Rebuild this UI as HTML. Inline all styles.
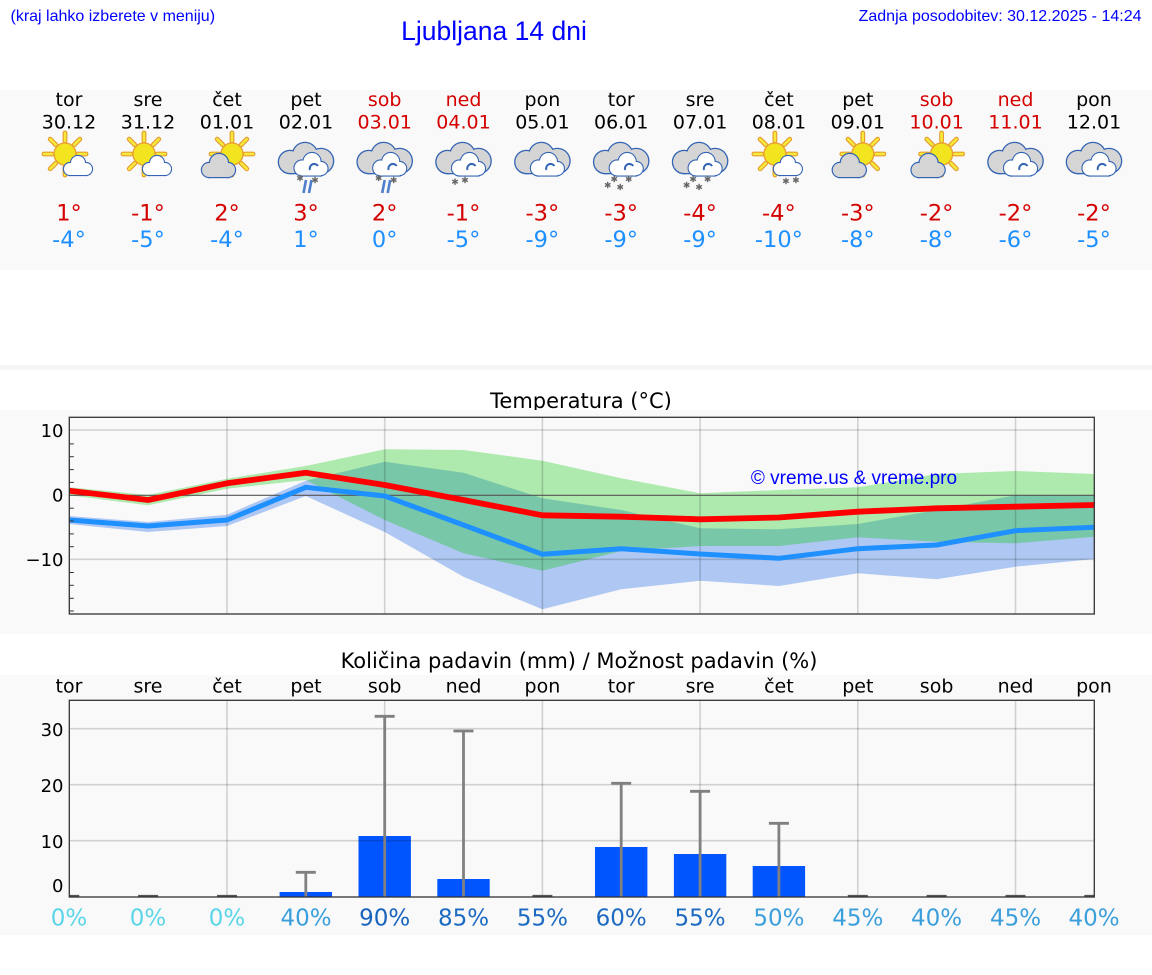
<!DOCTYPE html>
<html><head><meta charset="utf-8"><style>
html,body{margin:0;padding:0;background:#fff;}
svg{display:block;}
.dj{font-family:"DejaVu Sans","Liberation Sans",sans-serif;}
.ls{font-family:"Liberation Sans","DejaVu Sans",sans-serif;}
</style></head><body>
<svg width="1152" height="975" viewBox="0 0 1152 975" xmlns="http://www.w3.org/2000/svg">
<defs>
  <g id="sun0">
    <g stroke="#e59d2c" stroke-width="4.6" stroke-linecap="round">
      <line x1="0" y1="-12.5" x2="0" y2="-20"/><line x1="0" y1="12.5" x2="0" y2="20"/>
      <line x1="-12.5" y1="0" x2="-20" y2="0"/><line x1="12.5" y1="0" x2="20" y2="0"/>
      <line x1="8.8" y1="-8.8" x2="14.1" y2="-14.1"/><line x1="-8.8" y1="-8.8" x2="-14.1" y2="-14.1"/>
      <line x1="8.8" y1="8.8" x2="14.1" y2="14.1"/><line x1="-8.8" y1="8.8" x2="-14.1" y2="14.1"/>
    </g>
    <g stroke="#f7e93c" stroke-width="2.4" stroke-linecap="round">
      <line x1="0" y1="-12.5" x2="0" y2="-20"/><line x1="0" y1="12.5" x2="0" y2="20"/>
      <line x1="-12.5" y1="0" x2="-20" y2="0"/><line x1="12.5" y1="0" x2="20" y2="0"/>
      <line x1="8.8" y1="-8.8" x2="14.1" y2="-14.1"/><line x1="-8.8" y1="-8.8" x2="-14.1" y2="-14.1"/>
      <line x1="8.8" y1="8.8" x2="14.1" y2="14.1"/><line x1="-8.8" y1="8.8" x2="-14.1" y2="14.1"/>
    </g>
    <circle cx="0" cy="0" r="10.5" fill="#f2e41f" stroke="#e9a030" stroke-width="1.3"/>
  </g>
  <g id="sun"><use href="#sun0" transform="scale(1.05)"/></g>
  <g id="bigcloud">
    <g fill="#d5d5d5" stroke="#3464b4" stroke-width="2.6">
      <circle cx="-16" cy="2" r="11"/><circle cx="-1" cy="-5" r="12"/><circle cx="15" cy="1" r="12"/><rect x="-16" y="2" width="31" height="11"/>
    </g>
    <g fill="#d5d5d5">
      <circle cx="-16" cy="2" r="11"/><circle cx="-1" cy="-5" r="12"/><circle cx="15" cy="1" r="12"/><rect x="-16" y="2" width="31" height="11"/>
    </g>
    <g fill="#fff" stroke="#3464b4" stroke-width="2.2">
      <circle cx="-4" cy="8" r="7.5"/><circle cx="6" cy="1.5" r="8.5"/><circle cx="15" cy="8.5" r="6.5"/><rect x="-4" y="8" width="19" height="7.5"/>
    </g>
    <g fill="#fff">
      <circle cx="-4" cy="8" r="7.5"/><circle cx="6" cy="1.5" r="8.5"/><circle cx="15" cy="8.5" r="6.5"/><rect x="-4" y="8" width="19" height="7.5"/>
    </g>
    <path d="M4,10 a4.5,4.5 0 0 1 8,-4" fill="none" stroke="#3464b4" stroke-width="2"/>
  </g>
  <g id="smallwhite">
    <g fill="#fff" stroke="#3464b4" stroke-width="2.2">
      <circle cx="1" cy="9" r="6"/><circle cx="9" cy="3" r="7"/><circle cx="17" cy="9" r="6"/><rect x="1" y="9" width="16" height="6"/>
    </g>
    <g fill="#fff">
      <circle cx="1" cy="9" r="6"/><circle cx="9" cy="3" r="7"/><circle cx="17" cy="9" r="6"/><rect x="1" y="9" width="16" height="6"/>
    </g>
  </g>
  <g id="sunA">
    <use href="#sun" x="-4" y="-6"/>
    <use href="#smallwhite"/>
  </g>
  <g id="sunB">
    <use href="#sun" x="5" y="-6"/>
    <g fill="#d5d5d5" stroke="#3464b4" stroke-width="2.4">
      <circle cx="-18" cy="10" r="7"/><circle cx="-8" cy="3" r="9"/><circle cx="1" cy="10" r="7"/><rect x="-18" y="10" width="19" height="7"/>
    </g>
    <g fill="#d5d5d5">
      <circle cx="-18" cy="10" r="7"/><circle cx="-8" cy="3" r="9"/><circle cx="1" cy="10" r="7"/><rect x="-18" y="10" width="19" height="7"/>
    </g>
  </g>
  <g id="ast" stroke="#666" stroke-width="1.4">
    <line x1="0" y1="-3.2" x2="0" y2="3.2"/><line x1="-2.8" y1="-1.6" x2="2.8" y2="1.6"/><line x1="-2.8" y1="1.6" x2="2.8" y2="-1.6"/>
  </g>
  <g id="snowrain">
    <use href="#ast" x="-6" y="18"/><use href="#ast" x="9" y="20"/>
    <g stroke="#4f7fca" stroke-width="2.6"><line x1="0" y1="20" x2="-2.5" y2="33"/><line x1="5.5" y1="20" x2="3" y2="33"/></g>
  </g>
  <g id="snow2"><use href="#ast" x="-8.5" y="21.7"/><use href="#ast" x="1.5" y="20"/></g>
  <g id="snow4"><use href="#ast" x="-13.5" y="25"/><use href="#ast" x="-7" y="19"/><use href="#ast" x="-1" y="27"/><use href="#ast" x="7.5" y="19"/></g>
  <g id="snowA"><use href="#ast" x="7" y="21"/><use href="#ast" x="17" y="20"/></g>
  <clipPath id="tclip"><rect x="69.3" y="417.3" width="1025" height="196.7"/></clipPath>
  <clipPath id="pclip"><rect x="69.3" y="700.3" width="1025" height="196.7"/></clipPath>
</defs>

<!-- header -->
<text class="ls" x="10.5" y="16.5" font-size="16" fill="#0000ff" dominant-baseline="central">(kraj lahko izberete v meniju)</text>
<text class="ls" x="494" y="30.8" font-size="26.5" fill="#0000ff" text-anchor="middle" dominant-baseline="central">Ljubljana 14 dni</text>
<text class="ls" x="1141.5" y="16.5" font-size="16" fill="#0000ff" text-anchor="end" dominant-baseline="central">Zadnja posodobitev: 30.12.2025 - 14:24</text>

<!-- top panel -->
<rect x="0" y="90" width="1152" height="180" fill="#f9f9f9"/>
<rect x="0" y="365" width="1152" height="5" fill="#f5f5f5"/>

<g class="dj" text-anchor="middle" dominant-baseline="central" font-size="19">
  <g fill="#000">
    <text x="69" y="100">tor</text><text x="148" y="100">sre</text><text x="227" y="100">čet</text><text x="306" y="100">pet</text>
    <text x="542.4" y="100">pon</text><text x="621.2" y="100">tor</text><text x="700.1" y="100">sre</text><text x="778.9" y="100">čet</text><text x="857.8" y="100">pet</text><text x="1094" y="100">pon</text>
    <text x="69" y="122.7">30.12</text><text x="148" y="122.7">31.12</text><text x="227" y="122.7">01.01</text><text x="306" y="122.7">02.01</text>
    <text x="542.4" y="122.7">05.01</text><text x="621.2" y="122.7">06.01</text><text x="700.1" y="122.7">07.01</text><text x="778.9" y="122.7">08.01</text><text x="857.8" y="122.7">09.01</text><text x="1094" y="122.7">12.01</text>
  </g>
  <g fill="#d40000">
    <text x="384.7" y="100">sob</text><text x="463.5" y="100">ned</text><text x="936.6" y="100">sob</text><text x="1015.5" y="100">ned</text>
    <text x="384.7" y="122.7">03.01</text><text x="463.5" y="122.7">04.01</text><text x="936.6" y="122.7">10.01</text><text x="1015.5" y="122.7">11.01</text>
  </g>
</g>
<g class="dj" text-anchor="middle" dominant-baseline="central" font-size="22.5">
  <g fill="#d40000">
    <text x="69" y="213.5">1°</text><text x="148" y="213.5">-1°</text><text x="227" y="213.5">2°</text><text x="306" y="213.5">3°</text><text x="384.7" y="213.5">2°</text><text x="463.5" y="213.5">-1°</text><text x="542.4" y="213.5">-3°</text><text x="621.2" y="213.5">-3°</text><text x="700.1" y="213.5">-4°</text><text x="778.9" y="213.5">-4°</text><text x="857.8" y="213.5">-3°</text><text x="936.6" y="213.5">-2°</text><text x="1015.5" y="213.5">-2°</text><text x="1094" y="213.5">-2°</text>
  </g>
  <g fill="#1e8fff">
    <text x="69" y="240">-4°</text><text x="148" y="240">-5°</text><text x="227" y="240">-4°</text><text x="306" y="240">1°</text><text x="384.7" y="240">0°</text><text x="463.5" y="240">-5°</text><text x="542.4" y="240">-9°</text><text x="621.2" y="240">-9°</text><text x="700.1" y="240">-9°</text><text x="778.9" y="240">-10°</text><text x="857.8" y="240">-8°</text><text x="936.6" y="240">-8°</text><text x="1015.5" y="240">-6°</text><text x="1094" y="240">-5°</text>
  </g>
</g>

<!-- icons -->
<use href="#sunA" x="69" y="160"/>
<use href="#sunA" x="148" y="160"/>
<use href="#sunB" x="227" y="160"/>
<use href="#bigcloud" x="306" y="160"/><use href="#snowrain" x="306" y="160"/>
<use href="#bigcloud" x="384.7" y="160"/><use href="#snowrain" x="384.7" y="160"/>
<use href="#bigcloud" x="463.5" y="160"/><use href="#snow2" x="463.5" y="160"/>
<use href="#bigcloud" x="542.4" y="160"/>
<use href="#bigcloud" x="621.2" y="160"/><use href="#snow4" x="621.2" y="160"/>
<use href="#bigcloud" x="700.1" y="160"/><use href="#snow4" x="700.1" y="160"/>
<use href="#sunA" x="778.9" y="160"/><use href="#snowA" x="778.9" y="160"/>
<use href="#sunB" x="857.8" y="160"/>
<use href="#sunB" x="936.6" y="160"/>
<use href="#bigcloud" x="1015.5" y="160"/>
<use href="#bigcloud" x="1094" y="160"/>

<!-- temperature chart -->
<text class="dj" x="581" y="400.8" font-size="21" fill="#000" text-anchor="middle" dominant-baseline="central">Temperatura (°C)</text>
<rect x="0" y="410" width="1152" height="224" fill="#f9f9f9"/>
<g clip-path="url(#tclip)">
  <polygon fill="rgba(100,149,237,0.5)" points="69.3,516 148.1,522 227,514.7 305.8,480.7 384.7,461.7 463.5,472.7 542.4,498.3 621.2,510 700.1,528.3 778.9,529.3 857.8,524 936.6,510 1015.5,495.3 1094.3,495.3 1094.3,559 1015.5,566.7 936.6,579.3 857.8,573.3 778.9,586 700.1,580.7 621.2,589.3 542.4,609.3 463.5,576.7 384.7,532 305.8,496 227,526 148.1,532 69.3,524"/>
  <polygon fill="rgba(0,200,0,0.3)" points="69.3,487.3 148.1,495 227,478.7 305.8,466 384.7,449.3 463.5,450 542.4,460.7 621.2,478.3 700.1,493.3 778.9,490 857.8,487.3 936.6,474 1015.5,471 1094.3,474 1094.3,536.7 1015.5,543.3 936.6,541.7 857.8,537.3 778.9,546 700.1,546 621.2,551 542.4,570.7 463.5,553.3 384.7,520 305.8,480 227,488.7 148.1,505.3 69.3,495.3"/>
  <g stroke="rgba(0,0,0,0.16)" stroke-width="1.6">
    <line x1="69" y1="430" x2="1095" y2="430"/><line x1="69" y1="559.3" x2="1095" y2="559.3"/>
    <line x1="227" y1="417" x2="227" y2="614"/><line x1="384.7" y1="417" x2="384.7" y2="614"/><line x1="542.4" y1="417" x2="542.4" y2="614"/><line x1="700.1" y1="417" x2="700.1" y2="614"/><line x1="857.8" y1="417" x2="857.8" y2="614"/><line x1="1015.5" y1="417" x2="1015.5" y2="614"/>
  </g>
  <line x1="69" y1="495.3" x2="1095" y2="495.3" stroke="#555" stroke-width="1.2"/>
  <polyline fill="none" stroke="#1e90ff" stroke-width="5" stroke-linejoin="round" points="69.3,520 148.1,526 227,520 305.8,487.3 384.7,496 463.5,525 542.4,554.3 621.2,548.7 700.1,554 778.9,558.3 857.8,548.7 936.6,545 1015.5,530.7 1094.3,527.3"/>
  <polyline fill="none" stroke="#ff0000" stroke-width="5.8" stroke-linejoin="round" points="69.3,490.7 148.1,500 227,483.3 305.8,472.7 384.7,485 463.5,500 542.4,515.3 621.2,516.7 700.1,519.3 778.9,517.5 857.8,511.7 936.6,508.3 1015.5,506.7 1094.3,505"/>
</g>
<text class="ls" x="854" y="478.3" font-size="19" fill="#0000ff" text-anchor="middle" dominant-baseline="central">© vreme.us &amp; vreme.pro</text>
<rect x="69.3" y="417.3" width="1025" height="196.7" fill="none" stroke="#333" stroke-width="1.3"/>
<g stroke="#333" stroke-width="1">
  <line x1="69.3" y1="443.9" x2="73.8" y2="443.9"/><line x1="69.3" y1="456.7" x2="73.8" y2="456.7"/><line x1="69.3" y1="469.6" x2="73.8" y2="469.6"/><line x1="69.3" y1="482.4" x2="73.8" y2="482.4"/>
  <line x1="69.3" y1="508.2" x2="73.8" y2="508.2"/><line x1="69.3" y1="521" x2="73.8" y2="521"/><line x1="69.3" y1="533.9" x2="73.8" y2="533.9"/><line x1="69.3" y1="546.7" x2="73.8" y2="546.7"/>
  <line x1="69.3" y1="572.5" x2="73.8" y2="572.5"/><line x1="69.3" y1="585.3" x2="73.8" y2="585.3"/><line x1="69.3" y1="598.3" x2="73.8" y2="598.3"/><line x1="69.3" y1="611" x2="73.8" y2="611"/>
</g>
<g class="dj" font-size="18" fill="#000" text-anchor="end" dominant-baseline="central">
  <text x="63.5" y="431.5">10</text><text x="63.5" y="496">0</text><text x="63.5" y="560.5">−10</text>
</g>

<!-- precipitation chart -->
<text class="dj" x="579" y="661" font-size="21" fill="#000" text-anchor="middle" dominant-baseline="central">Količina padavin (mm) / Možnost padavin (%)</text>
<rect x="0" y="675" width="1152" height="260" fill="#f9f9f9"/>
<g class="dj" font-size="19" fill="#000" text-anchor="middle" dominant-baseline="central">
  <text x="69" y="686.7">tor</text><text x="148" y="686.7">sre</text><text x="227" y="686.7">čet</text><text x="306" y="686.7">pet</text><text x="384.7" y="686.7">sob</text><text x="463.5" y="686.7">ned</text><text x="542.4" y="686.7">pon</text><text x="621.2" y="686.7">tor</text><text x="700.1" y="686.7">sre</text><text x="778.9" y="686.7">čet</text><text x="857.8" y="686.7">pet</text><text x="936.6" y="686.7">sob</text><text x="1015.5" y="686.7">ned</text><text x="1094" y="686.7">pon</text>
</g>
<g clip-path="url(#pclip)">
  <g fill="#0055ff">
    <rect x="279.6" y="892" width="52.4" height="5"/>
    <rect x="358.5" y="836" width="52.4" height="61"/>
    <rect x="437.3" y="879" width="52.4" height="18"/>
    <rect x="595" y="847" width="52.4" height="50"/>
    <rect x="673.9" y="854" width="52.4" height="43"/>
    <rect x="752.7" y="866" width="52.4" height="31"/>
  </g>
  <g stroke="rgba(0,0,0,0.16)" stroke-width="1.6">
    <line x1="69" y1="728.7" x2="1095" y2="728.7"/><line x1="69" y1="784.7" x2="1095" y2="784.7"/><line x1="69" y1="840.7" x2="1095" y2="840.7"/>
    <line x1="227" y1="700" x2="227" y2="897"/><line x1="384.7" y1="700" x2="384.7" y2="897"/><line x1="542.4" y1="700" x2="542.4" y2="897"/><line x1="700.1" y1="700" x2="700.1" y2="897"/><line x1="857.8" y1="700" x2="857.8" y2="897"/><line x1="1015.5" y1="700" x2="1015.5" y2="897"/>
  </g>
  <g stroke="#808080" stroke-width="2.8">
    <line x1="305.8" y1="897" x2="305.8" y2="872.3"/><line x1="295.8" y1="872.3" x2="315.8" y2="872.3"/>
    <line x1="384.7" y1="897" x2="384.7" y2="716.3"/><line x1="374.7" y1="716.3" x2="394.7" y2="716.3"/>
    <line x1="463.5" y1="897" x2="463.5" y2="731"/><line x1="453.5" y1="731" x2="473.5" y2="731"/>
    <line x1="621.2" y1="897" x2="621.2" y2="783.3"/><line x1="611.2" y1="783.3" x2="631.2" y2="783.3"/>
    <line x1="700.1" y1="897" x2="700.1" y2="791.3"/><line x1="690.1" y1="791.3" x2="710.1" y2="791.3"/>
    <line x1="778.9" y1="897" x2="778.9" y2="823.3"/><line x1="768.9" y1="823.3" x2="788.9" y2="823.3"/>
  </g>
  <g stroke="#555" stroke-width="2.6">
    <line x1="59.3" y1="896.2" x2="79.3" y2="896.2"/><line x1="138.1" y1="896.2" x2="158.1" y2="896.2"/><line x1="217" y1="896.2" x2="237" y2="896.2"/><line x1="532.4" y1="896.2" x2="552.4" y2="896.2"/><line x1="847.8" y1="896.2" x2="867.8" y2="896.2"/><line x1="926.6" y1="896.2" x2="946.6" y2="896.2"/><line x1="1005.5" y1="896.2" x2="1025.5" y2="896.2"/><line x1="1084.3" y1="896.2" x2="1104.3" y2="896.2"/>
  </g>
</g>
<rect x="69.3" y="700.3" width="1025" height="196.7" fill="none" stroke="#333" stroke-width="1.3"/>
<g class="dj" font-size="18" fill="#000" text-anchor="end" dominant-baseline="central">
  <text x="63.5" y="730.7">30</text><text x="63.5" y="786.7">20</text><text x="63.5" y="842.7">10</text><text x="63.5" y="886.7">0</text>
</g>
<g class="dj" font-size="23" text-anchor="middle" dominant-baseline="central">
  <text x="69" y="918.7" fill="#5ad6e8">0%</text>
  <text x="148" y="918.7" fill="#5ad6e8">0%</text>
  <text x="227" y="918.7" fill="#5ad6e8">0%</text>
  <text x="306" y="918.7" fill="#3b9fdc">40%</text>
  <text x="384.7" y="918.7" fill="#1763bd">90%</text>
  <text x="463.5" y="918.7" fill="#1d6ac2">85%</text>
  <text x="542.4" y="918.7" fill="#1d6ac2">55%</text>
  <text x="621.2" y="918.7" fill="#1d6ac2">60%</text>
  <text x="700.1" y="918.7" fill="#1d6ac2">55%</text>
  <text x="778.9" y="918.7" fill="#3b9fdc">50%</text>
  <text x="857.8" y="918.7" fill="#3b9fdc">45%</text>
  <text x="936.6" y="918.7" fill="#3b9fdc">40%</text>
  <text x="1015.5" y="918.7" fill="#3b9fdc">45%</text>
  <text x="1094" y="918.7" fill="#3b9fdc">40%</text>
</g>
</svg>
</body></html>
